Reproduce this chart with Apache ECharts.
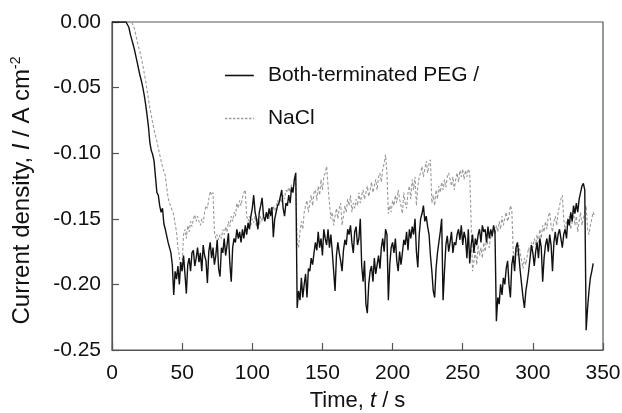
<!DOCTYPE html>
<html>
<head>
<meta charset="utf-8">
<script src="https://cdn.jsdelivr.net/npm/echarts@6/dist/echarts.min.js"></script>
<style>
html,body{margin:0;padding:0;background:#fff;}
#chart{width:622px;height:413px;}
</style>
</head>
<body>
<div id="chart"></div>
<script>
// Sampling: one value per second, first sample at t = 0 s
const sampleStartS = 0;
const sampleStepS = 1;

// Both-terminated PEG (black, solid) — current density, A cm^-2
const pegValues = [
  0,0,0,0,0,0,0,0,0,0,0,
  -0.001,-0.004,-0.009,-0.013,-0.017,-0.021,-0.026,-0.031,-0.036,-0.041,
  -0.045,-0.05,-0.056,-0.063,-0.071,-0.08,-0.092,-0.098,-0.101,-0.106,
  -0.118,-0.13,-0.132,-0.14,-0.145,-0.142,-0.154,-0.158,-0.163,-0.168,
  -0.172,-0.176,-0.185,-0.208,-0.19,-0.196,-0.186,-0.2,-0.183,-0.19,
  -0.178,-0.192,-0.207,-0.185,-0.18,-0.19,-0.176,-0.174,-0.186,-0.18,
  -0.172,-0.183,-0.176,-0.19,-0.17,-0.178,-0.182,-0.199,-0.175,-0.168,
  -0.18,-0.172,-0.185,-0.178,-0.166,-0.188,-0.194,-0.172,-0.176,-0.165,
  -0.178,-0.17,-0.161,-0.184,-0.198,-0.172,-0.165,-0.168,-0.158,-0.165,
  -0.16,-0.168,-0.158,-0.165,-0.155,-0.162,-0.153,-0.158,-0.148,-0.142,
  -0.132,-0.145,-0.15,-0.158,-0.145,-0.14,-0.134,-0.148,-0.152,-0.145,
  -0.15,-0.142,-0.148,-0.141,-0.164,-0.15,-0.145,-0.14,-0.138,-0.133,
  -0.128,-0.142,-0.148,-0.138,-0.14,-0.132,-0.138,-0.126,-0.13,-0.12,
  -0.115,
  -0.218,-0.205,-0.212,-0.195,-0.21,-0.2,-0.192,-0.21,-0.188,
  -0.19,-0.18,-0.185,-0.176,-0.168,-0.174,-0.16,-0.172,-0.165,-0.178,
  -0.158,-0.165,-0.17,-0.158,-0.172,-0.162,-0.175,-0.19,-0.205,-0.178,
  -0.168,-0.176,-0.182,-0.19,-0.174,-0.166,-0.17,-0.158,-0.162,-0.155,
  -0.168,-0.176,-0.16,-0.156,-0.17,-0.165,-0.15,-0.186,-0.198,-0.182,
  -0.215,-0.222,-0.2,-0.19,-0.186,-0.198,-0.18,-0.192,-0.185,-0.178,
  -0.188,-0.172,-0.165,-0.175,-0.158,-0.162,-0.212,-0.185,-0.172,-0.168,
  -0.176,-0.165,-0.182,-0.19,-0.175,-0.185,-0.176,-0.166,-0.17,-0.16,
  -0.174,-0.158,-0.165,-0.156,-0.162,-0.15,-0.175,-0.187,-0.162,-0.15,
  -0.146,-0.14,-0.152,-0.148,-0.156,-0.162,-0.178,-0.19,-0.205,-0.21,
  -0.188,-0.176,-0.168,-0.16,-0.15,-0.212,-0.19,-0.17,-0.163,-0.175,
  -0.168,-0.16,-0.176,-0.168,-0.17,-0.162,-0.158,-0.166,-0.155,-0.17,
  -0.16,-0.165,-0.18,-0.158,-0.184,-0.17,-0.162,-0.176,-0.165,-0.17,
  -0.162,-0.158,-0.168,-0.155,-0.16,-0.158,-0.168,-0.156,-0.165,-0.158,
  -0.163,-0.155,-0.16,-0.228,-0.21,-0.215,-0.2,-0.208,-0.195,-0.2,
  -0.188,-0.182,-0.2,-0.21,-0.185,-0.178,-0.19,-0.172,-0.168,-0.178,
  -0.19,-0.2,-0.21,-0.218,-0.205,-0.198,-0.19,-0.18,-0.17,-0.176,
  -0.186,-0.175,-0.168,-0.18,-0.165,-0.172,-0.198,-0.18,-0.17,-0.165,
  -0.175,-0.162,-0.17,-0.19,-0.168,-0.16,-0.17,-0.162,-0.158,-0.165,
  -0.172,-0.162,-0.158,-0.165,-0.15,-0.155,-0.145,-0.152,-0.14,-0.146,
  -0.138,-0.145,-0.135,-0.13,-0.125,-0.123,-0.128,-0.235,-0.218,-0.205,
  -0.195,-0.19,-0.184
];

// NaCl (grey, dashed) — current density, A cm^-2
const naclValues = [
  0,0,0,0,0,0,0,0,0,0,0,0,0,0,0,
  -0.001,-0.005,-0.01,-0.015,-0.019,-0.023,
  -0.028,-0.033,-0.039,-0.045,-0.052,-0.059,-0.066,-0.071,-0.077,-0.082,
  -0.087,-0.091,-0.096,-0.101,-0.106,-0.11,-0.114,-0.117,-0.126,-0.134,
  -0.138,-0.141,-0.144,-0.147,-0.154,-0.16,-0.172,-0.178,-0.19,-0.185,
  -0.162,-0.158,-0.165,-0.155,-0.16,-0.152,-0.156,-0.15,-0.147,-0.152,
  -0.148,-0.152,-0.155,-0.15,-0.153,-0.145,-0.14,-0.142,-0.135,-0.129,
  -0.132,-0.13,-0.16,-0.165,-0.162,-0.166,-0.162,-0.165,-0.158,-0.162,
  -0.156,-0.16,-0.152,-0.156,-0.148,-0.152,-0.145,-0.148,-0.138,-0.142,
  -0.136,-0.14,-0.134,-0.13,-0.128,-0.148,-0.152,-0.148,-0.155,-0.15,
  -0.153,-0.148,-0.156,-0.15,-0.155,-0.148,-0.152,-0.146,-0.15,-0.151,
  -0.145,-0.15,-0.142,-0.146,-0.14,-0.144,-0.141,-0.136,-0.14,-0.134,
  -0.138,-0.132,-0.135,-0.128,-0.13,-0.126,-0.13,-0.124,-0.127,-0.122,
  -0.12,-0.168,-0.172,-0.16,-0.152,-0.158,-0.145,-0.14,-0.136,-0.145,
  -0.138,-0.132,-0.14,-0.13,-0.128,-0.136,-0.125,-0.132,-0.12,-0.128,
  -0.118,-0.115,-0.11,-0.125,-0.138,-0.15,-0.145,-0.155,-0.148,-0.142,
  -0.15,-0.142,-0.138,-0.155,-0.148,-0.14,-0.145,-0.135,-0.14,-0.132,
  -0.145,-0.138,-0.142,-0.135,-0.14,-0.13,-0.138,-0.132,-0.128,-0.135,
  -0.13,-0.125,-0.133,-0.128,-0.122,-0.13,-0.125,-0.12,-0.128,-0.118,
  -0.115,-0.122,-0.112,-0.108,-0.101,-0.115,-0.146,-0.14,-0.145,-0.136,
  -0.14,-0.132,-0.138,-0.128,-0.135,-0.14,-0.146,-0.13,-0.138,-0.142,
  -0.13,-0.125,-0.135,-0.12,-0.128,-0.118,-0.14,-0.125,-0.118,-0.115,
  -0.11,-0.118,-0.112,-0.106,-0.115,-0.108,-0.105,-0.138,-0.132,-0.14,
  -0.128,-0.135,-0.125,-0.13,-0.122,-0.128,-0.12,-0.126,-0.118,-0.115,
  -0.12,-0.125,-0.118,-0.128,-0.12,-0.115,-0.122,-0.113,-0.118,-0.112,
  -0.12,-0.113,-0.118,-0.112,-0.115,-0.152,-0.19,-0.182,-0.175,-0.185,
  -0.17,-0.178,-0.172,-0.18,-0.168,-0.175,-0.165,-0.17,-0.172,-0.162,
  -0.165,-0.158,-0.162,-0.155,-0.16,-0.152,-0.158,-0.148,-0.155,-0.15,
  -0.145,-0.152,-0.148,-0.14,-0.143,-0.175,-0.18,-0.172,-0.178,-0.17,
  -0.176,-0.182,-0.188,-0.18,-0.185,-0.178,-0.172,-0.176,-0.168,-0.172,
  -0.165,-0.17,-0.162,-0.168,-0.158,-0.165,-0.155,-0.16,-0.152,-0.158,
  -0.148,-0.145,-0.155,-0.16,-0.152,-0.148,-0.155,-0.145,-0.14,-0.135,
  -0.132,-0.15,-0.158,-0.152,-0.155,-0.148,-0.158,-0.152,-0.145,-0.155,
  -0.148,-0.16,-0.152,-0.145,-0.155,-0.15,-0.145,-0.14,-0.158,-0.162,
  -0.155,-0.15,-0.145,-0.148
];

const seriesNames = ['Both-terminated PEG /', 'NaCl'];
const xTickValues = [0, 50, 100, 150, 200, 250, 300, 350];
const yTickValues = [0.00, -0.05, -0.10, -0.15, -0.20, -0.25];

function toPairs(values) {
  return values.map((v, i) => [sampleStartS + i * sampleStepS, v]);
}

const chart = echarts.init(document.getElementById('chart'), null, {renderer: 'canvas'});
const FONT = 'Liberation Sans, Arial, sans-serif';
const axisColor = '#555';
const solidIcon = 'path://M0,0H36V2H0Z';
const dashIcon = 'path://M0,0H3V2H0Z M5,0H8V2H5Z M10,0H13V2H10Z M15,0H18V2H15Z M20,0H23V2H20Z M25,0H28V2H25Z M30,0H33V2H30Z M35,0H36V2H35Z';

chart.setOption({
  animation: false,
  backgroundColor: '#fff',
  grid: {
    left: 112, right: 19, top: 22, bottom: 63,
    containLabel: false, outerBoundsMode: 'none',
    show: true, borderColor: axisColor, borderWidth: 1.2, backgroundColor: 'transparent'
  },
  legend: {
    left: 225, top: 65, orient: 'vertical', padding: 0,
    itemWidth: 35, itemHeight: 1.6, itemGap: 22,
    textStyle: {fontFamily: FONT, fontSize: 21, color: '#111', padding: [0, 0, 0, 6]},
    data: [
      {name: seriesNames[0], icon: solidIcon, itemStyle: {color: '#111'}},
      {name: seriesNames[1], icon: dashIcon, itemStyle: {color: '#9a9a9a'}}
    ]
  },
  xAxis: {
    type: 'value', min: 0, max: 350, interval: 50,
    name: 'Time, {i|t} / s',
    nameLocation: 'middle', nameGap: 40,
    nameTextStyle: {fontFamily: FONT, fontSize: 22, color: '#111',
      rich: {i: {fontFamily: FONT, fontSize: 22, fontStyle: 'italic', color: '#111'}}},
    axisLine: {show: true, onZero: false, lineStyle: {color: axisColor, width: 1.2}},
    axisTick: {show: true, inside: true, length: 7, lineStyle: {color: axisColor, width: 1.2}},
    axisLabel: {fontFamily: FONT, fontSize: 21, color: '#111', margin: 13,
      customValues: xTickValues, formatter: v => String(v)},
    splitLine: {show: false}
  },
  yAxis: {
    type: 'value', min: -0.25, max: 0, interval: 0.05,
    name: 'Current density, {i|I} / A cm{sup|-2}',
    nameLocation: 'middle', nameGap: 77, nameRotate: 90,
    nameTextStyle: {fontFamily: FONT, fontSize: 24, color: '#111',
      rich: {
        i: {fontFamily: FONT, fontSize: 24, fontStyle: 'italic', color: '#111'},
        sup: {fontFamily: FONT, fontSize: 14, color: '#111', verticalAlign: 'top', padding: [0, 9, 12, 0]}
      }},
    axisLine: {show: true, onZero: false, lineStyle: {color: axisColor, width: 1.2}},
    axisTick: {show: true, inside: true, length: 7, lineStyle: {color: axisColor, width: 1.2}},
    axisLabel: {fontFamily: FONT, fontSize: 21, color: '#111', margin: 11,
      customValues: yTickValues, formatter: v => v.toFixed(2)},
    splitLine: {show: false}
  },
  series: [
    {
      name: seriesNames[0], type: 'line', data: toPairs(pegValues),
      showSymbol: false, symbol: 'none',
      lineStyle: {color: '#111', width: 1.4},
      itemStyle: {color: '#111'}, z: 3
    },
    {
      name: seriesNames[1], type: 'line', data: toPairs(naclValues),
      showSymbol: false, symbol: 'none',
      lineStyle: {color: '#9a9a9a', width: 1.1, type: [3, 2]},
      itemStyle: {color: '#9a9a9a'}, z: 2
    }
  ]
});
</script>
</body>
</html>
